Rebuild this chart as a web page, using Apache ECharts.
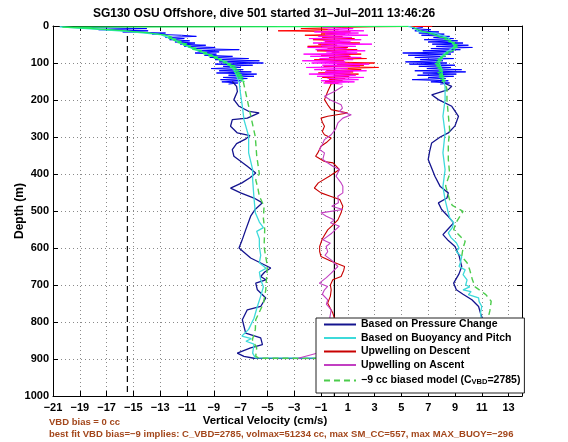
<!DOCTYPE html>
<html><head><meta charset="utf-8">
<script src="https://cdn.jsdelivr.net/npm/echarts@6/dist/echarts.min.js"></script>
<style>html,body{margin:0;padding:0;background:#fff}#c{width:568px;height:442px}</style>
</head><body><div id="c"></div>
<script>
// ---------- DATA ----------
const xTicksMin = -21, xTicksMax = 14, xStep = 2;
const depthMin = 0, depthMax = 1000, depthStep = 100;
const refDashedVel = -15.45;
const refZeroVel = 0;

// Based on Pressure Change (smoothed, below ~150 m): descent -> bottom -> ascent
const pressDepth = [150,163,177,199,217,231,235,249,253,271,289,296,305,318,334,352,379,397,410,424,438,451,465,478,495,514,551,580,600,627,654,665,677,686,695,713,735,758,767,794,830,843,861,870,884,893,898,
  899,880,850,820,795,776,758,740,725,713,695,670,650,620,596,580,564,548,532,515,496,478,465,451,434,406,388,361,340,316,300,289,270,244,230,217,199,186,172,163,150];
const pressVel = [-7.62,-7.3,-7.24,-7.5,-7.12,-6.37,-5.62,-6.5,-7.62,-7.75,-7.24,-6.3,-6.6,-7.3,-7.62,-7.5,-6.5,-5.87,-6.3,-6.9,-7.75,-7.0,-6.0,-5.37,-5.9,-6.25,-6.62,-6.9,-7.12,-6.25,-4.75,-5.2,-5.5,-5.12,-5.87,-5.75,-5.12,-5.5,-6.5,-6.87,-6.62,-5.5,-5.37,-6.25,-7.25,-6.75,-6.0,
  10.0,10.6,11.3,11.4,11.1,10.9,10.76,10.26,9.6,9.1,8.9,9.3,9.5,9.3,9.0,8.5,8.1,8.5,8.9,8.5,8.0,7.76,8.4,8.5,7.9,7.5,7.3,7.0,7.1,7.26,7.9,8.5,9.0,9.26,9.0,8.76,7.76,7.26,8.5,8.76,7.9];

// Pressure-change raw (noisy) near surface
const blueDescDepth = [4,7,10,13,16,19,22,25,28,31,34,37,40,43,46,49,52,55,58,61,64,67,70,73,76,79,82,85,88,91,94,97,100,103,106,109,112,115,118,121,124,127,130,133,136,139,142,145,148,151,154,157];
const blueDescVel = [-19.2,-14.0,-17.6,-13.9,-15.8,-12.6,-13.6,-11.4,-10.3,-12.6,-11.2,-12.3,-10.8,-11.9,-10.4,-11.5,-9.6,-11.2,-8.9,-10.5,-7.1,-10.2,-8.6,-10.4,-8.8,-9.7,-7.6,-9.3,-6.4,-8.9,-5.6,-8.6,-5.3,-8.9,-6.1,-8.3,-7.0,-9.2,-6.8,-8.6,-6.2,-8.8,-5.8,-7.9,-6.0,-8.3,-6.5,-8.5,-6.9,-8.4,-7.2,-7.9];
const blueAscDepth = [157,154,151,148,145,142,139,136,133,130,127,124,121,118,115,112,109,106,103,100,97,94,91,88,85,82,79,76,73,70,67,64,61,58,55,52,49,46,43,40,37,34,31,28,25,22,19,16,13,10,7,4];
const blueAscVel = [7.9,8.6,7.2,8.5,5.8,8.3,7.0,8.9,6.2,9.1,6.6,9.8,6.0,9.5,6.9,8.7,6.3,9.0,5.6,8.4,5.3,8.1,6.4,8.9,6.0,8.3,5.5,8.7,5.1,8.9,6.6,9.4,7.2,10.3,7.6,10.0,7.3,9.6,7.0,9.2,6.7,8.9,7.4,8.6,6.5,8.2,6.3,7.8,6.0,7.2,5.8,6.6];

// Based on Buoyancy and Pitch
const buoyDepth = [2,8,15,23,37,55,69,82,100,118,135,153,185,217,253,298,343,388,416,465,505,530,545,555,575,596,620,640,655,665,686,705,730,758,790,820,838,845,852,860,884,897,
  898,870,840,800,776,758,745,735,726,718,713,705,700,686,672,659,650,640,623,610,600,586,572,559,545,532,518,505,490,469,434,388,343,289,244,199,163,145,118,91,73,55,32,19,15,5,1];
const buoyVel = [-20.5,-18.2,-15.3,-13.0,-12.0,-11.0,-10.0,-9.0,-8.0,-7.5,-7.3,-7.1,-7.0,-6.87,-6.75,-6.4,-6.4,-6.1,-6.1,-6.0,-5.9,-5.6,-5.3,-5.8,-5.6,-5.6,-5.5,-5.6,-5.1,-5.6,-5.5,-5.3,-5.5,-5.75,-6.0,-6.4,-6.9,-6.2,-6.6,-6.0,-6.1,-5.9,
  10.4,10.9,11.1,11.0,10.9,11.0,10.8,10.76,10.0,10.2,9.6,10.1,9.8,9.9,9.6,9.76,9.3,9.4,9.5,9.1,9.3,9.1,8.7,8.5,8.8,8.9,8.6,8.5,8.4,8.26,8.1,8.26,8.1,8.26,8.1,8.26,8.26,8.1,8.0,7.76,8.26,9.0,8.5,7.5,6.26,6.0,5.5];

// Upwelling on Descent
const upDescDepth = [157,177,199,213,226,235,244,249,260,271,285,294,303,315,325,343,352,366,370,388,406,424,438,451,460,469,487,505,524,541,551,575,596,610,623,636,650,660,677,686,700,713,730,749,776,800,830,860,898];
const upDescVel = [-0.24,-0.5,-0.74,-0.5,-0.24,1.0,-0.5,-1.0,-0.9,-0.74,-0.9,-0.74,-0.24,-0.6,-1.0,-1.24,-1.4,-0.74,-0.1,0.38,-0.38,-1.2,-1.5,-1.0,-0.3,0.4,0.63,0.5,0.26,-0.2,-0.5,-0.9,-1.1,-1.1,-1.0,-0.24,0.76,0.7,0.5,-0.12,-0.3,-0.24,-0.3,-0.5,-0.12,0.1,0.3,0.2,0.4];
const upDescNoiseDepth = [1,2,4,7,10,13,16,19,22,25,28,31,34,37,40,43,46,49,52,55,58,61,64,67,70,73,76,79,82,85,88,91,94,97,100,103,106,109,112,115,118,121,124,127,130,133,136,139,142,145,148,151,154,157];
const upDescNoiseVel = [7.3,3.0,0.5,-2.5,0.3,-4.2,1.2,-1.0,0.8,-2.2,0.6,-0.9,1.5,-1.6,0.4,-0.7,1.9,-1.2,0.2,-2.0,1.0,-0.5,1.7,-1.3,0.9,-0.2,2.0,-1.0,1.2,-0.4,2.4,-1.5,0.7,-0.3,3.0,0.2,2.2,-0.8,3.3,0.5,2.0,-0.6,1.4,-1.2,1.8,0.0,1.1,-0.9,0.8,-0.4,0.6,-0.7,0.3,-0.3];

// Upwelling on Ascent
const upAscDepth = [898,884,860,830,800,767,752,740,725,713,704,695,680,668,650,632,620,610,596,587,578,560,541,532,524,514,505,496,487,478,460,451,433,424,406,388,379,361,343,334,320,307,294,278,262,249,240,231,222,213,200,190,177,163];
const upAscVel = [-2.7,-1.24,-0.8,-0.6,-0.4,-0.24,-0.6,-0.5,-0.9,-0.74,-0.5,-1.12,-0.6,-0.24,0.26,-0.24,-0.7,-0.5,-0.62,-0.3,-0.87,-0.2,0.38,-0.3,0.0,-0.6,-1.0,0.63,-0.2,0.3,0.26,0.63,0.63,0.5,0.12,0.38,-0.12,-0.87,-0.74,-1.12,-0.9,-0.74,-0.24,0.1,0.26,0.63,1.26,0.38,0.6,0.5,-0.3,-0.74,0.0,0.63];
const upAscNoiseDepth = [157,154,151,148,145,142,139,136,133,130,127,124,121,118,115,112,109,106,103,100,97,94,91,88,85,82,79,76,73,70,67,64,61,58,55,52,49,46,43,40,37,34,31,28,25,22,19,16,13,10,7,4];
const upAscNoiseVel = [0.6,-0.8,1.5,-1.0,1.8,-0.5,2.2,-1.3,1.6,-1.9,1.2,-0.7,2.4,-1.5,1.0,-2.1,1.9,-0.9,2.6,-1.7,0.8,-2.4,1.4,-1.1,2.0,-1.8,1.1,-2.3,1.7,-0.6,2.3,-1.4,0.9,-2.0,1.6,-1.0,2.8,-1.6,1.2,-0.8,2.0,-1.9,1.3,-1.2,2.5,-0.7,1.8,-1.5,2.2,-0.5,1.4,-0.9];

// -9 cc biased model
const modelDepth = [150,200,250,300,350,400,416,440,460,487,520,550,596,650,700,713,750,794,820,848,870,893,898,
  899,870,840,800,770,744,726,705,686,659,640,623,600,582,565,550,530,501,485,470,432,400,360,320,280,240,200,170,150];
const modelVel = [-6.8,-6.5,-6.2,-5.9,-5.8,-5.6,-5.87,-5.7,-5.6,-5.25,-5.3,-5.2,-5.25,-5.0,-5.1,-5.12,-5.3,-5.87,-5.9,-6.12,-5.8,-5.87,-5.6,
  10.3,11.2,11.5,11.4,11.6,11.7,11.3,10.5,10.3,10.1,9.9,9.5,9.6,9.76,9.3,8.9,9.1,9.6,8.8,8.6,8.3,8.6,8.5,8.5,8.6,8.5,8.4,8.4,8.2];
const modelDescNoiseDepth = [1,3,6,9,12,15,18,21,24,27,30,33,36,39,42,45,48,51,54,57,60,63,66,69,72,75,78,81,84,87,90,93,96,99,102,105,108,111,114,117,120,123,126,129,132,135,138,141,144,147,150];
const modelDescNoiseVel = [5.5,-20.3,-18.5,-17.2,-16.0,-15.0,-14.0,-13.4,-12.7,-12.6,-12.1,-12.4,-11.8,-12.0,-11.4,-11.7,-11.0,-11.3,-10.7,-10.9,-10.3,-10.6,-9.9,-10.1,-9.5,-9.8,-9.1,-9.4,-8.7,-9.0,-8.4,-8.6,-8.0,-8.3,-7.7,-8.0,-7.4,-7.8,-7.3,-7.6,-7.1,-7.5,-7.0,-7.4,-6.9,-7.3,-6.8,-7.2,-6.8,-7.0,-6.7];
const modelAscNoiseDepth = [150,147,144,141,138,135,132,129,126,123,120,117,114,111,108,105,102,99,96,93,90,87,84,81,78,75,72,69,66,63,60,57,54,51,48,45,42,39,36,33,30,27,24,21,18,15,12,9,6,3];
const modelAscNoiseVel = [8.0,8.3,7.9,8.2,7.8,8.2,7.8,8.1,7.7,8.1,7.8,8.1,7.7,8.0,7.6,7.9,7.5,7.9,7.6,8.0,7.7,8.1,7.9,8.3,8.1,8.5,8.3,8.7,8.6,9.0,8.8,9.2,8.9,9.2,8.8,9.0,8.5,8.7,8.2,8.4,7.9,8.0,7.5,7.6,7.0,6.6,6.4,6.3,6.0,5.9];

const names = ['Based on Pressure Change','Based on Buoyancy and Pitch','Upwelling on Descent','Upwelling on Ascent','\u22129 cc biased model (C_VBD=2785)'];

// ---------- CHART ----------
const FONT = "'Liberation Sans', Arial, Helvetica, sans-serif";
const pairs = (v, d) => v.map((x, i) => [x, d[i]]);
const fmtNum = v => (v < 0 ? '\u2212' + (-v) : String(v));

function line(name, v, d, color, width, extra) {
  return Object.assign({
    type: 'line', name: name, data: pairs(v, d), symbol: 'none', showSymbol: false,
    lineStyle: { color: color, width: width }, itemStyle: { color: color },
    animation: false, silent: true, z: 2
  }, extra || {});
}

const chart = echarts.init(document.getElementById('c'), null, { renderer: 'canvas' });

const axisCommon = {
  type: 'value', axisLine: { onZero: false, lineStyle: { color: '#000', width: 1 } },
  axisTick: { inside: true, length: 5, lineStyle: { color: '#000' } }
};

chart.setOption({
  backgroundColor: '#fff',
  animation: false,
  grid: { left: 53, right: 46, top: 26, bottom: 46 },
  xAxis: [
    Object.assign({}, axisCommon, {
      position: 'bottom', min: xTicksMin, max: xTicksMax, interval: xStep,
      axisLabel: { margin: 6, fontSize: 11, fontWeight: 'bold', color: '#000', fontFamily: FONT, formatter: fmtNum, showMaxLabel: false },
      splitLine: { show: true, lineStyle: { color: '#8a8a8a', type: [1, 3], width: 1 } }
    }),
    Object.assign({}, axisCommon, {
      position: 'top', min: xTicksMin, max: xTicksMax, interval: xStep,
      axisLabel: { show: false }, splitLine: { show: false }
    })
  ],
  yAxis: [
    Object.assign({}, axisCommon, {
      position: 'left', inverse: true, min: depthMin, max: depthMax, interval: depthStep,
      axisLabel: { margin: 4, fontSize: 11, fontWeight: 'bold', color: '#000', fontFamily: FONT, formatter: fmtNum },
      splitLine: { show: true, lineStyle: { color: '#8a8a8a', type: [1, 3], width: 1 } }
    }),
    Object.assign({}, axisCommon, {
      position: 'right', inverse: true, min: depthMin, max: depthMax, interval: depthStep,
      axisLabel: { show: false }, splitLine: { show: false }
    })
  ],
  legend: {
    orient: 'vertical', left: 316, top: 318,
    itemWidth: 32, itemHeight: 11, itemGap: 2.5,
    padding: [1, 4, 7, 7],
    backgroundColor: '#fff', borderColor: '#222', borderWidth: 1, borderRadius: 0,
    selectedMode: false,
    itemStyle: { color: 'rgba(0,0,0,0)', borderColor: 'rgba(0,0,0,0)', borderWidth: 0, opacity: 0 },
    data: names,
    formatter: function (n) {
      if (n === names[4]) return '{t|\u22129 cc biased model (C}{s|VBD}{t|=2785)}';
      return n;
    },
    textStyle: {
      fontSize: 10.5, fontWeight: 'bold', color: '#000', fontFamily: FONT,
      rich: {
        t: { fontSize: 10.5, fontWeight: 'bold', color: '#000', fontFamily: FONT, lineHeight: 11, verticalAlign: 'middle' },
        s: { fontSize: 7.5, fontWeight: 'bold', color: '#000', fontFamily: FONT, lineHeight: 11, verticalAlign: 'bottom', padding: [5, 0, 0, 0] }
      }
    }
  },
  graphic: [
    { type: 'text', x: 264, y: 13.5, style: { text: 'SG130 OSU Offshore, dive 501 started 31\u2013Jul\u20132011 13:46:26', font: 'bold 12px ' + FONT, fill: '#000', textAlign: 'center', textVerticalAlign: 'middle', align: 'center', verticalAlign: 'middle' } },
    { type: 'text', x: 265, y: 421, style: { text: 'Vertical Velocity (cm/s)', font: 'bold 11.5px ' + FONT, fill: '#000', textAlign: 'center', textVerticalAlign: 'middle', align: 'center', verticalAlign: 'middle' } },
    { type: 'text', x: 20, y: 211, rotation: Math.PI / 2, style: { text: 'Depth (m)', font: 'bold 12px ' + FONT, fill: '#000', textAlign: 'center', textVerticalAlign: 'middle', align: 'center', verticalAlign: 'middle' } },
    { type: 'text', x: 49, y: 422, style: { text: 'VBD bias = 0 cc', font: 'bold 9.5px ' + FONT, fill: '#a3471c', textAlign: 'left', textVerticalAlign: 'middle', align: 'left', verticalAlign: 'middle' } },
    { type: 'text', x: 49, y: 434.5, style: { text: 'best fit VBD bias=\u22129 implies: C_VBD=2785, volmax=51234 cc, max SM_CC=557, max MAX_BUOY=\u2212296', font: 'bold 9.5px ' + FONT, fill: '#a3471c', textAlign: 'left', textVerticalAlign: 'middle', align: 'left', verticalAlign: 'middle' } }
  ],
  series: [
    line('refDashed', [refDashedVel, refDashedVel], [depthMin, depthMax], '#000', 1.2, { lineStyle: { color: '#000', width: 1.2, type: [6, 4] }, z: 1 }),
    line('refZero', [refZeroVel, refZeroVel], [depthMin, depthMax], '#000', 1.2, { z: 1 }),
    line('pressRawDesc', blueDescVel, blueDescDepth, '#0000ff', 1),
    line('pressRawAsc', blueAscVel, blueAscDepth, '#0000ff', 1),
    line('upDescRaw', upDescNoiseVel, upDescNoiseDepth, '#ff0000', 1),
    line('upAscRaw', upAscNoiseVel, upAscNoiseDepth, '#ff00ff', 1),
    line(names[0], pressVel, pressDepth, '#14148f', 1.3),
    line(names[1], buoyVel, buoyDepth, '#3ddada', 1.3),
    line(names[2], upDescVel, upDescDepth, '#c80000', 1.1),
    line(names[3], upAscVel, upAscDepth, '#c23fc2', 1.1),
    line(names[4], modelVel, modelDepth, '#4ccc4c', 1.4, { lineStyle: { color: '#4ccc4c', width: 1.4, type: [6, 4] } }),
    line('modelRawDesc', modelDescNoiseVel, modelDescNoiseDepth, '#1ef05a', 1.2),
    line('modelRawAsc', modelAscNoiseVel, modelAscNoiseDepth, '#1ef05a', 1.2)
  ]
});
</script></body></html>
